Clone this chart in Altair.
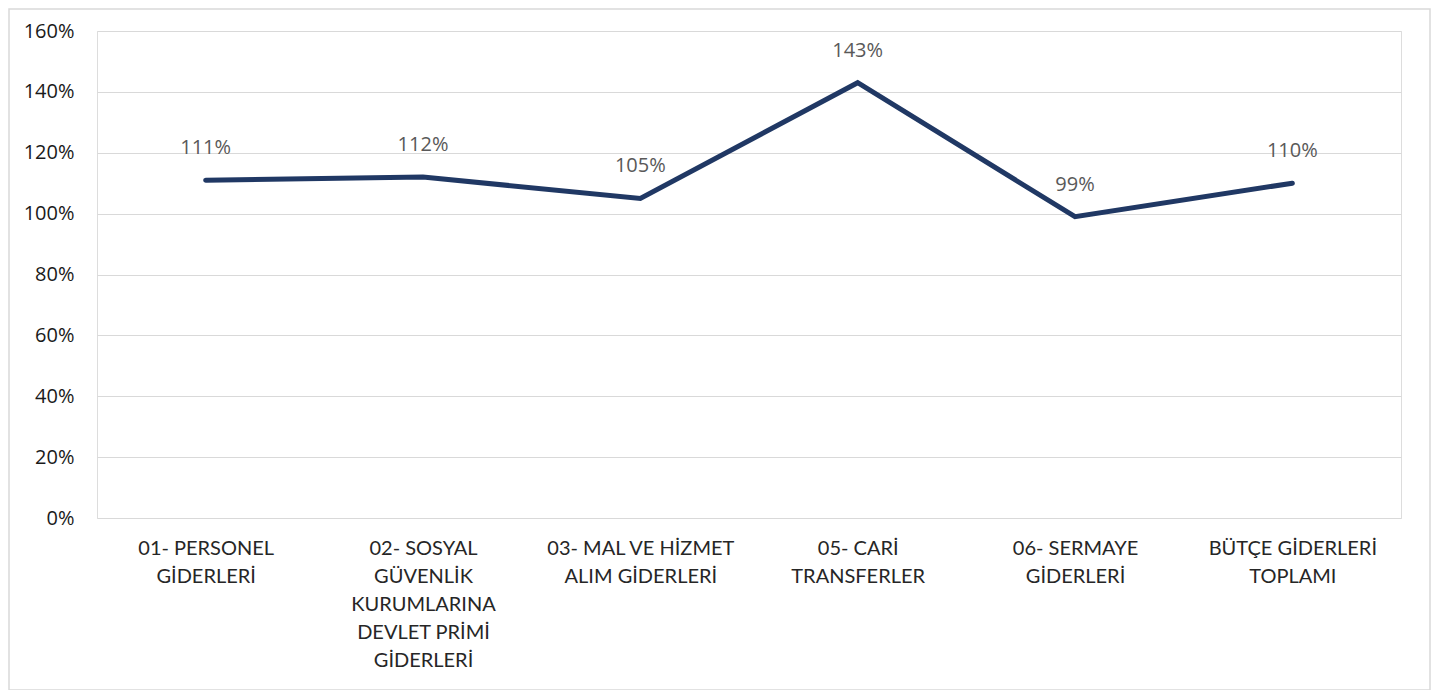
import altair as alt
import pandas as pd

categories = [
    "01- PERSONEL\nGİDERLERİ",
    "02- SOSYAL\nGÜVENLİK\nKURUMLARINA\nDEVLET PRİMİ\nGİDERLERİ",
    "03- MAL VE HİZMET\nALIM GİDERLERİ",
    "05- CARİ\nTRANSFERLER",
    "06- SERMAYE\nGİDERLERİ",
    "BÜTÇE GİDERLERİ\nTOPLAMI",
]
values = [1.11, 1.12, 1.05, 1.43, 0.99, 1.10]
y_ticks = [0, 0.2, 0.4, 0.6, 0.8, 1.0, 1.2, 1.4, 1.6]

df = pd.DataFrame({"cat": categories, "val": values})

x_enc = alt.X(
    "cat:N",
    sort=categories,
    scale=alt.Scale(paddingInner=0, paddingOuter=0),
    axis=alt.Axis(
        title=None,
        labelAngle=0,
        labelExpr="split(datum.label, '\\n')",
        labelFont="Lato",
        labelFontSize=20,
        labelColor="#262626",
        labelLineHeight=28,
        labelBaseline="top",
        labelPadding=20,
        ticks=False,
        domain=False,
        grid=False,
        labelLimit=300,
    ),
)
y_enc = alt.Y(
    "val:Q",
    scale=alt.Scale(domain=[0, 1.6], nice=False),
    axis=alt.Axis(
        title=None,
        values=y_ticks,
        format=".0%",
        labelFont="Open Sans",
        labelFontSize=20,
        labelColor="#1a1a1a",
        labelPadding=23,
        ticks=False,
        domain=False,
        grid=True,
        gridColor="#d9d9d9",
        gridWidth=1.2,
    ),
)

base = alt.Chart(df).encode(x=x_enc, y=y_enc)

line = base.mark_line(color="#203864", strokeWidth=5, strokeCap="round", strokeJoin="miter")
labels = base.mark_text(
    dy=-32, font="Open Sans", fontSize=20, color="#595959", baseline="middle"
).encode(text=alt.Text("val:Q", format=".0%"))

border = alt.Chart(alt.Data(values=[{}])).mark_rect(
    fillOpacity=0, stroke="#d9d9d9", strokeWidth=1.5
).encode(
    x=alt.value(-88), x2=alt.value(1333), y=alt.value(-22), y2=alt.value(659)
)

chart = alt.layer(border, line, labels).properties(
    width=1304,
    height=487,
    autosize=alt.AutoSizeParams(type="none"),
    padding={"left": 89, "top": 23, "right": 32, "bottom": 172},
).configure_view(stroke=None).configure(background="white")

chart.save("out.html", embed_options={"renderer": "svg", "actions": False})
